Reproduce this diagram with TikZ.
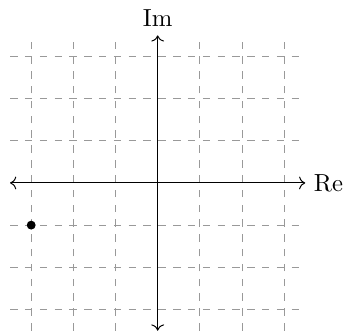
\documentclass[tikz,border=0pt]{standalone}
\usetikzlibrary{arrows.meta, positioning}
\tikzset{
  % griglia tratteggiata
  griglia/.style={draw=gray!80, dashed, line width=0.4pt},
  % assi del piano complesso
  asse/.style={->, line width=0.4pt},
  % punto nel piano
  punto/.style={circle, fill=black, inner sep=0pt, minimum size=3.6pt},
}

\begin{document}
\begin{tikzpicture}[x=0.6cm, y=0.6cm]
  \useasboundingbox (-3.74,-3.58) rectangle (4.49,4.34);
  \draw[griglia, step=1] (-3.5,-3.5) grid (3.5,3.5);
  \coordinate (xmin) at (-3.5,0);
  \coordinate (xmax) at (3.5,0);
  \coordinate (ymin) at (0,-3.5);
  \coordinate (ymax) at (0,3.5);
  \draw[asse, <->] (xmin) -- (xmax) node[right] (re) {Re};
  \draw[asse, <->] (ymin) -- (ymax) node[above] (im) {Im};
  \node[punto] (z) at (-3,-1) {};
\end{tikzpicture}
\end{document}
